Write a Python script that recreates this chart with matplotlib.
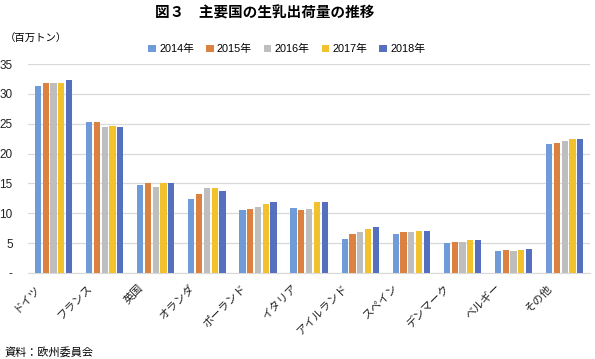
import matplotlib
matplotlib.use("Agg")
import matplotlib.pyplot as plt
import matplotlib.transforms as mtransforms
import numpy as np

plt.rcParams['font.family'] = ['Noto Sans CJK JP', 'DejaVu Sans']

categories = ['ドイツ', 'フランス', '英国', 'オランダ', 'ポーランド', 'イタリア',
              'アイルランド', 'スペイン', 'デンマーク', 'ベルギー', 'その他']
years = ['2014年', '2015年', '2016年', '2017年', '2018年']
v2014 = [31.35, 25.25, 14.8, 12.4, 10.5, 10.9, 5.7, 6.55, 5.0, 3.6, 21.55]
v2015 = [31.85, 25.3, 15.1, 13.3, 10.8, 10.5, 6.5, 6.8, 5.15, 3.9, 21.85]
v2016 = [31.9, 24.4, 14.45, 14.3, 11.1, 10.7, 6.8, 6.8, 5.25, 3.75, 22.05]
v2017 = [31.9, 24.6, 15.05, 14.3, 11.6, 11.9, 7.4, 7.0, 5.45, 3.9, 22.4]
v2018 = [32.4, 24.5, 15.05, 13.8, 11.9, 11.9, 7.7, 7.05, 5.5, 4.1, 22.45]
series = [v2014, v2015, v2016, v2017, v2018]
yticks = [0, 5, 10, 15, 20, 25, 30, 35]
ytick_labels = ['-', '5', '10', '15', '20', '25', '30', '35']
colors = ['#6F9BD8', '#DC8240', '#BEBEBE', '#F2C12E', '#5470BF']

fig = plt.figure(figsize=(5.95, 3.59), dpi=100)
ax = fig.add_axes([0.047, 0.2396, 0.945, 0.5821])

x = np.arange(len(categories))
step = 0.152
bw = 0.122
for i, (vals, c, lab) in enumerate(zip(series, colors, years)):
    ax.bar(x + (i - 2) * step, vals, width=bw, color=c, label=lab, zorder=3)

ax.set_xlim(-0.5, len(categories) - 0.5)
ax.set_ylim(0, 35)
ax.set_yticks(yticks)
ax.set_yticklabels(ytick_labels, fontsize=8.5, family=['Liberation Sans', 'DejaVu Sans'])
ax.yaxis.grid(True, color='#D9D9D9', linewidth=0.9, zorder=0)
ax.tick_params(axis='y', length=0, pad=11, colors='#222222')
ax.tick_params(axis='x', length=0, pad=7)
for s in ['left', 'right', 'top']:
    ax.spines[s].set_visible(False)
ax.spines['bottom'].set_color('#D9D9D9')

ax.set_xticks(x)
ax.set_xticklabels(categories, rotation=45, ha='right', fontsize=8, color='#222222')
offset = mtransforms.ScaledTranslation(-11 / 100, 0, fig.dpi_scale_trans)
for lbl in ax.get_xticklabels():
    lbl.set_transform(lbl.get_transform() + offset)

fig.text(0.445, 0.965, '図３　主要国の生乳出荷量の推移', ha='center', va='center',
         fontsize=10.5, fontweight='bold')
fig.text(0.008, 0.893, '（百万トン）', ha='left', va='center', fontsize=7.5)
fig.text(0.008, 0.018, '資料：欧州委員会', ha='left', va='center', fontsize=8)

leg = fig.legend(loc='center', bbox_to_anchor=(0.482, 0.863), ncol=5, frameon=False,
                 handlelength=0.7, handleheight=0.7, handletextpad=0.3,
                 columnspacing=1.1, prop={'family': ['Liberation Sans', 'Noto Sans CJK JP'], 'size': 7.8})

fig.savefig('out.png', dpi=100)
